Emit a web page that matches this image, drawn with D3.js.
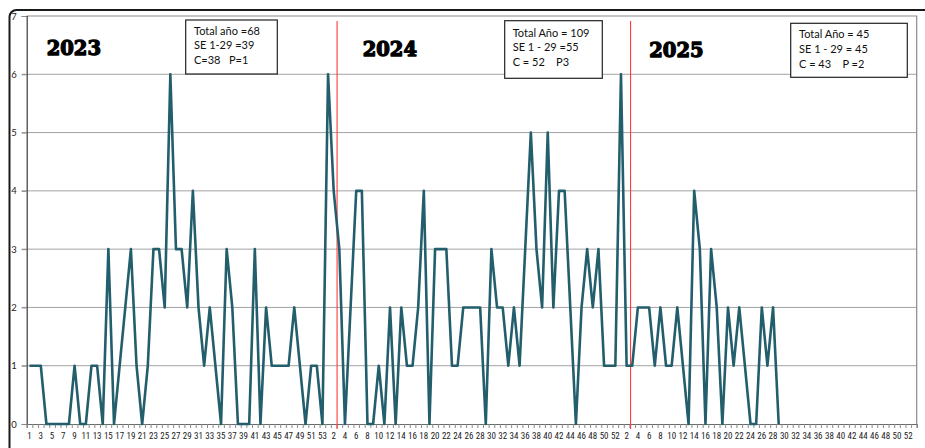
<!DOCTYPE html>
<html><head><meta charset="utf-8">
<script src="https://cdn.jsdelivr.net/npm/d3@7"></script>
<style>body{margin:0;background:#fff;} svg{display:block;}</style>
</head><body>
<svg id="chart" width="925" height="448"></svg>
<script>
// ---- data ----
const years = ["2023", "2024", "2025"];
const weeks2023 = d3.range(1, 54);   // 53 epidemiological weeks
const weeks2024 = d3.range(1, 53);   // 52 weeks
const weeks2025 = d3.range(1, 54);   // axis goes to week 53
const cases2023 = [1,1,1,0,0,0,0,0,1,0, 0,1,1,0,3,0,1,2,3,1, 0,1,3,3,2,6,3,3,2,4, 2,1,2,1,0,3,2,0,0,0, 3,0,2,1,1,1,1,2,1,0, 1,1,0];
const cases2024 = [6,4,3,0,2,4,4,0,0,1, 0,2,0,2,1,1,2,4,0,3, 3,3,1,1,2,2,2,2,0,3, 2,2,1,2,1,3,5,3,2,5, 2,4,4,2,0,2,3,2,3,1, 1,1];
const cases2025 = [6,1,1,2,2,2,1,2,1,1, 2,1,0,4,3,0,3,2,0,2, 1,2,1,0,0,2,1,2,0];
const yTicks = [0,1,2,3,4,5,6,7];
const boxTexts = [
  ["Total año =68", "SE 1-29 =39", "C=38   P=1"],
  ["Total Año = 109", "SE 1 - 29 =55", "C = 52    P3"],
  ["Total Año = 45", "SE 1 - 29 = 45", "C = 43    P =2"]
];
const separatorPositions = [54.6, 106.7]; // in category-index units

// ---- build categories ----
const weeksByYear = [weeks2023, weeks2024, weeks2025];
const casesByYear = [cases2023, cases2024, cases2025];
const cats = [];
weeksByYear.forEach((wk, yi) => {
  wk.forEach((w, wi) => {
    const v = casesByYear[yi][wi];
    cats.push({year: years[yi], week: w, value: (v === undefined ? null : v)});
  });
});
cats.forEach((d, i) => d.i = i);

// ---- layout ----
const P = {left: 26.7, right: 916.7, top: 16, bottom: 424};
const svg = d3.select("#chart");
const x = d3.scaleLinear().domain([-0.5, cats.length - 0.5]).range([P.left, P.right]);
const y = d3.scaleLinear().domain([0, 7]).range([P.bottom, P.top]);

// outer rounded frame
svg.append("rect").attr("x", 9.5).attr("y", 10).attr("width", 960).attr("height", 480)
  .attr("rx", 7).attr("fill", "#fff").attr("stroke", "#1a1a1a").attr("stroke-width", 2);

// gridlines
svg.append("g").selectAll("line").data(yTicks.filter(t => t > 0 && t < 7)).join("line")
  .attr("x1", P.left - 5).attr("x2", P.right)
  .attr("y1", d => y(d)).attr("y2", d => y(d))
  .attr("stroke", "#a3a3a3").attr("stroke-width", 1);

// plot border (top & right)
svg.append("path")
  .attr("d", `M${P.left},${P.top}H${P.right}V${P.bottom}`)
  .attr("fill", "none").attr("stroke", "#8a8a8a").attr("stroke-width", 1.2);

// y axis
const yAxis = d3.axisLeft(y).tickValues(yTicks).tickSize(5).tickPadding(5).tickFormat(d3.format("d"));
const gy = svg.append("g").attr("transform", `translate(${P.left},0)`).call(yAxis);
gy.select(".domain").attr("stroke", "#3a3a3a").attr("stroke-width", 1.2);
gy.selectAll(".tick line").attr("stroke", "#8a8a8a");
gy.selectAll("text").attr("font-family", "Lato, 'Open Sans', sans-serif").attr("font-size", 9.5).attr("fill", "#222");

// x axis
const xAxis = d3.axisBottom(x)
  .tickValues(d3.range(-0.5, cats.length, 1))
  .tickSize(4).tickFormat("");
const gx = svg.append("g").attr("transform", `translate(0,${P.bottom})`).call(xAxis);
gx.select(".domain").attr("stroke", "#6a6a6a").attr("stroke-width", 1.2);
gx.selectAll(".tick line").attr("stroke", "#8a8a8a");

svg.append("g").selectAll("text").data(cats.filter(d => d.i % 2 === 0)).join("text")
  .attr("x", d => x(d.i)).attr("y", 439)
  .attr("text-anchor", "middle")
  .attr("font-family", "'Liberation Sans Narrow', 'Roboto Condensed', Lato, sans-serif")
  .attr("font-size", 9).attr("fill", "#222")
  .text(d => d.week);

// separators
svg.append("g").selectAll("line").data(separatorPositions).join("line")
  .attr("x1", d => x(d)).attr("x2", d => x(d))
  .attr("y1", 21).attr("y2", 429)
  .attr("stroke", "#ff3b3b").attr("stroke-width", 1.1);

// the line
const line = d3.line().defined(d => d.value !== null)
  .x(d => x(d.i)).y(d => y(d.value));
svg.append("path").datum(cats).attr("d", line)
  .attr("fill", "none").attr("stroke", "#235e6c").attr("stroke-width", 2.6)
  .attr("stroke-linejoin", "round");

// year labels
const yearLayout = [{x: 46.7, y: 55}, {x: 362.7, y: 55.5}, {x: 649.3, y: 56.5}];
svg.append("g").selectAll("text").data(years).join("text")
  .attr("x", (d, i) => yearLayout[i].x).attr("y", (d, i) => yearLayout[i].y)
  .attr("font-family", "'DejaVu Serif', serif").attr("font-weight", "bold")
  .attr("font-size", 19.5).attr("fill", "#000")
  .attr("stroke", "#000").attr("stroke-width", 1.3).attr("stroke-linejoin", "round")
  .style("paint-order", "stroke")
  .text(d => d);

// annotation boxes
const boxLayout = [
  {x: 185.7, y: 20, w: 91.6, h: 54, tx: 194, ty: [35, 49.3, 64]},
  {x: 504.7, y: 20.7, w: 97.6, h: 57.6, tx: 512.7, ty: [36.7, 51, 65.7]},
  {x: 790.7, y: 23.3, w: 116.6, h: 54, tx: 799, ty: [38.3, 53.3, 67.7]}
];
boxTexts.forEach((lines, bi) => {
  const L = boxLayout[bi];
  const g = svg.append("g");
  g.append("rect").attr("x", L.x).attr("y", L.y).attr("width", L.w).attr("height", L.h)
    .attr("fill", "#fff").attr("stroke", "#222").attr("stroke-width", 1.2);
  g.selectAll("text").data(lines).join("text")
    .attr("x", L.tx).attr("y", (d, i) => L.ty[i])
    .attr("font-family", "Lato, 'Open Sans', sans-serif").attr("font-size", 11)
    .attr("fill", "#111").style("white-space", "pre")
    .text(d => d);
});
</script>
</body></html>
